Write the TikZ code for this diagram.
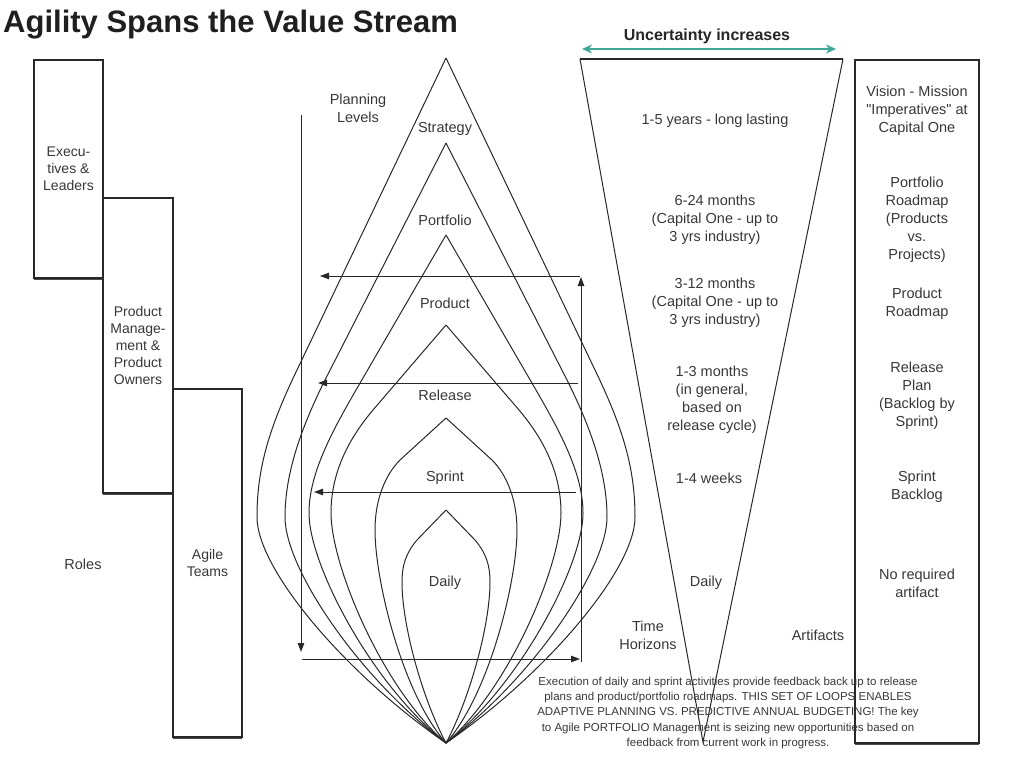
\documentclass[tikz,border=0pt]{standalone}
\usepackage{fontspec}
\setmainfont{Liberation Sans}
\usetikzlibrary{arrows.meta,shadows}
\definecolor{ink}{RGB}{40,40,40}
\definecolor{txt}{RGB}{55,55,55}
\definecolor{uteal}{RGB}{64,168,150}
\tikzset{
  lbl/.style={font=\fontsize{14.5}{18}\selectfont, align=center, text=txt, inner sep=0pt},
  rolebox/.style={draw=ink, line width=1.2pt, fill=white, align=center, text=txt,
    font=\fontsize{14}{16.8}\selectfont, inner sep=0pt,
    drop shadow={shadow xshift=0.4pt, shadow yshift=-2.2pt, fill=black!70, opacity=1}},
  petal/.style={draw=ink, line width=1pt},
  fbarrow/.style={draw=ink, line width=1pt, -{Triangle[length=9pt,width=6.5pt]}},
}
\begin{document}
\begin{tikzpicture}[x=1pt, y=-1pt]
\useasboundingbox (0,0) rectangle (1010,761);
% Title
\node[anchor=base west, font=\fontsize{31}{36}\selectfont\bfseries, inner sep=0pt, text=black!88] (title) at (3,32) {Agility Spans the Value Stream};
% Roles
\node[rolebox, minimum width=69pt, minimum height=218pt] (exec) at (68.5,169) {Execu-\\tives \&\\Leaders};
\node[rolebox, minimum width=70pt, minimum height=295pt] (prodmgmt) at (138,345.5) {Product\\Manage-\\ment \&\\Product\\Owners};
\node[rolebox, minimum width=69pt, minimum height=348pt] (teams) at (207.5,563) {Agile\\Teams};
\node[lbl] (roles) at (83,564) {Roles};
% Planning levels (nested petals)
\coordinate (apex) at (446,743);
\foreach \tip/\sx/\sy/\ax/\ay/\bx/\by/\mx/\my/\cy/\fx/\fy in {
    58/149/370/178/430/189/470/189/517/570/99/675,
    143/121/380/146/430/161/475/161/517/570/84/681,
    235/90/390/116/435/137/475/137/513/565/74/685,
    325/73/410/95/436/115/470/115/513/565/64/688,
    418/46/460/61/475/71/500/71/530/580/44/693,
    510/29/540/40/553/44/565/44/582/625/24/698}
  \foreach \s in {-1,1}
    \draw[petal] (446,\tip) -- (446+\s*\sx,\sy)
      .. controls (446+\s*\ax,\ay) and (446+\s*\bx,\by) .. (446+\s*\mx,\my)
      .. controls (446+\s*\mx,\cy) and (446+\s*\fx,\fy) .. (apex);
\foreach \y/\name in {129/Strategy, 220/Portfolio, 303/Product, 395/Release, 478/Sprint, 583/Daily}
  \node[lbl] (lvl\name) at (445,\y) {\name};
\node[lbl] (planning) at (358,108) {Planning\\Levels};
% Planning direction
\coordinate (plantop) at (301,115);
\coordinate (planbot) at (301,652);
\draw[fbarrow] (plantop) -- (planbot);
% Feedback loops
\coordinate (fbbl) at (302,659);
\coordinate (fbbr) at (580,659);
\coordinate (fblow) at (581,662);
\coordinate (fbtop) at (581,277);
\draw[fbarrow] (fbbl) -- (fbbr);
\draw[fbarrow] (fblow) -- (fbtop);
\foreach \y/\xa/\xb [count=\i] in {276/580/320, 383/578/318, 492/576/314} {
  \coordinate (fbr\i) at (\xa,\y);
  \coordinate (fbl\i) at (\xb,\y);
  \draw[fbarrow] (fbr\i) -- (fbl\i);
}
% Time horizons
\coordinate (horTL) at (580,59);
\coordinate (horTR) at (843,59);
\coordinate (horapex) at (703,742);
\draw[petal] (horTL) -- (horapex) -- (horTR);
\draw[ink, line width=2pt] (horTL) -- (horTR);
\coordinate (uncL) at (582,49);
\coordinate (uncR) at (836,49);
\draw[uteal, line width=2pt, {Stealth[length=10pt,width=9pt]}-{Stealth[length=10pt,width=9pt]}] (uncL) -- (uncR);
\node[font=\fontsize{16}{18}\selectfont\bfseries, text=black!85, inner sep=0pt] (uncert) at (707,36) {Uncertainty increases};
\node[lbl] (h1) at (715,121) {1-5 years - long lasting};
\node[lbl] (h2) at (715,220) {6-24 months\\(Capital One - up to\\3 yrs industry)};
\node[lbl] (h3) at (715,303) {3-12 months\\(Capital One - up to\\3 yrs industry)};
\node[lbl] (h4) at (712,400) {1-3 months\\(in general,\\based on\\release cycle)};
\node[lbl] (h5) at (709,478) {1-4 weeks};
\node[lbl] (h6) at (706,583) {Daily};
\node[lbl] (horizons) at (648,635) {Time\\Horizons};
\node[lbl] (artifacts) at (818,635) {Artifacts};
% Artifacts
\node[rolebox, minimum width=124pt, minimum height=683pt] (artbox) at (917,401.5) {};
\node[lbl] (a1) at (917,111) {Vision - Mission\\\textquotedbl Imperatives\textquotedbl{} at\\Capital One};
\node[lbl] (a2) at (917,220) {Portfolio\\Roadmap\\(Products\\vs.\\Projects)};
\node[lbl] (a3) at (917,304) {Product\\Roadmap};
\node[lbl] (a4) at (917,395.5) {Release\\Plan\\(Backlog by\\Sprint)};
\node[lbl] (a5) at (917,487) {Sprint\\Backlog};
\node[lbl] (a6) at (917,583) {No required\\artifact};
% Note
\node[font=\fontsize{11.5}{15.3}\selectfont, align=center, text=txt, inner sep=0pt] (note) at (728,713) {Execution of daily and sprint activities provide feedback back up to release\\plans and product/portfolio roadmaps. THIS SET OF LOOPS ENABLES\\ADAPTIVE PLANNING VS. PREDICTIVE ANNUAL BUDGETING! The key\\to Agile PORTFOLIO Management is seizing new opportunities based on\\feedback from current work in progress.};
\end{tikzpicture}
\end{document}
